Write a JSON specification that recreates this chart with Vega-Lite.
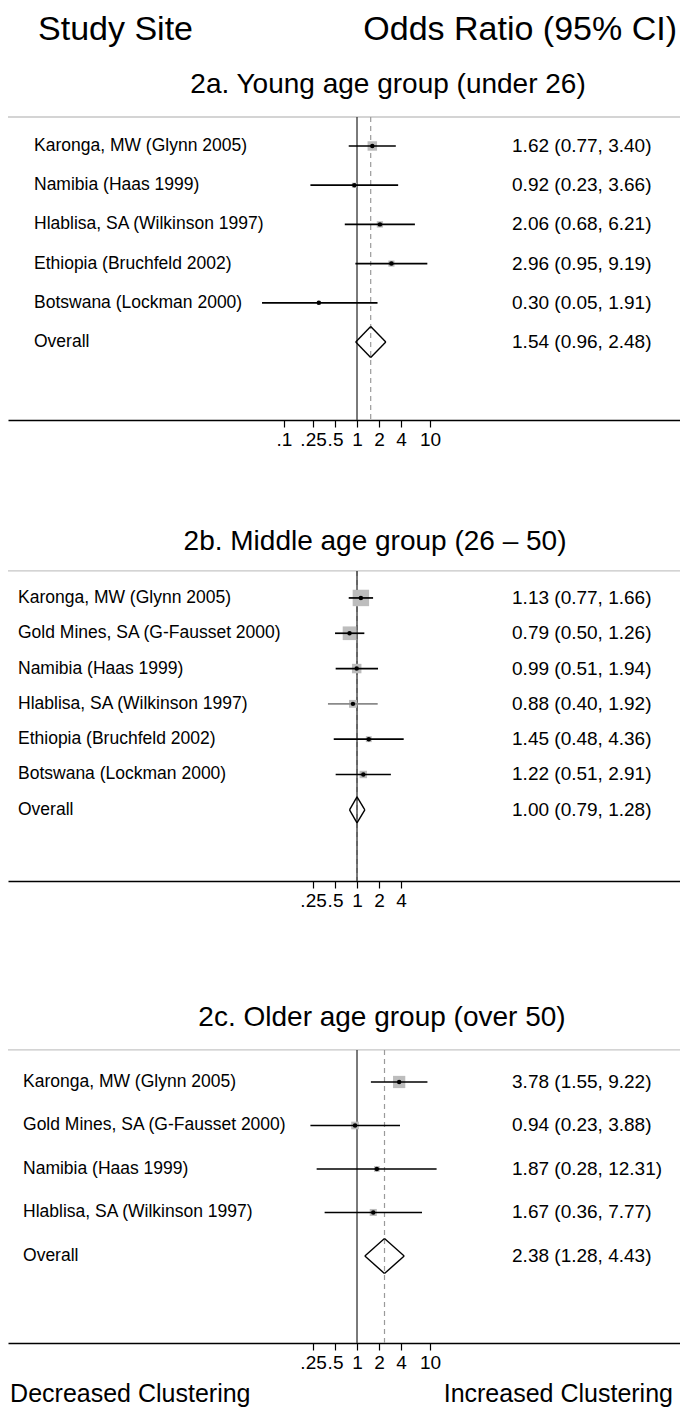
{
  "$schema": "https://vega.github.io/schema/vega-lite/v6.json",
  "padding": {"left": 7, "top": 0, "right": 0, "bottom": 0},
  "background": "white",
  "bounds": "flush",
  "spacing": 0,
  "resolve": {"scale": {"size": "independent"}},
  "config": {
    "view": {"stroke": null},
    "font": "Liberation Sans",
    "text": {"font": "Liberation Sans", "color": "black"},
    "axis": {"domainColor": "black", "domainWidth": 1.3, "tickColor": "black", "tickWidth": 1.2, "tickSize": 7, "labelFontSize": 19, "labelColor": "black", "labelFont": "Liberation Sans", "labelPadding": 3, "grid": false}
  },
  "datasets": {
    "young": [
      {"row": 0, "site": "Karonga, MW (Glynn 2005)", "or": 1.62, "lo": 0.77, "hi": 3.40, "weight": 43, "type": "study", "ci": "1.62 (0.77, 3.40)"},
      {"row": 1, "site": "Namibia (Haas 1999)", "or": 0.92, "lo": 0.23, "hi": 3.66, "weight": 12, "type": "study", "ci": "0.92 (0.23, 3.66)"},
      {"row": 2, "site": "Hlablisa, SA (Wilkinson 1997)", "or": 2.06, "lo": 0.68, "hi": 6.21, "weight": 19, "type": "study", "ci": "2.06 (0.68, 6.21)"},
      {"row": 3, "site": "Ethiopia (Bruchfeld 2002)", "or": 2.96, "lo": 0.95, "hi": 9.19, "weight": 18, "type": "study", "ci": "2.96 (0.95, 9.19)"},
      {"row": 4, "site": "Botswana (Lockman 2000)", "or": 0.30, "lo": 0.05, "hi": 1.91, "weight": 7, "type": "study", "ci": "0.30 (0.05, 1.91)"},
      {"row": 5, "site": "Overall", "or": 1.54, "lo": 0.96, "hi": 2.48, "weight": 100, "type": "overall", "ci": "1.54 (0.96, 2.48)"}
    ],
    "middle": [
      {"row": 0, "site": "Karonga, MW (Glynn 2005)", "or": 1.13, "lo": 0.77, "hi": 1.66, "weight": 39, "type": "study", "ci": "1.13 (0.77, 1.66)"},
      {"row": 1, "site": "Gold Mines, SA (G-Fausset 2000)", "or": 0.79, "lo": 0.50, "hi": 1.26, "weight": 27, "type": "study", "ci": "0.79 (0.50, 1.26)"},
      {"row": 2, "site": "Namibia (Haas 1999)", "or": 0.99, "lo": 0.51, "hi": 1.94, "weight": 13, "type": "study", "ci": "0.99 (0.51, 1.94)"},
      {"row": 3, "site": "Hlablisa, SA (Wilkinson 1997)", "or": 0.88, "lo": 0.40, "hi": 1.92, "weight": 9, "type": "study", "ci": "0.88 (0.40, 1.92)"},
      {"row": 4, "site": "Ethiopia (Bruchfeld 2002)", "or": 1.45, "lo": 0.48, "hi": 4.36, "weight": 5, "type": "study", "ci": "1.45 (0.48, 4.36)"},
      {"row": 5, "site": "Botswana (Lockman 2000)", "or": 1.22, "lo": 0.51, "hi": 2.91, "weight": 8, "type": "study", "ci": "1.22 (0.51, 2.91)"},
      {"row": 6, "site": "Overall", "or": 1.00, "lo": 0.79, "hi": 1.28, "weight": 100, "type": "overall", "ci": "1.00 (0.79, 1.28)"}
    ],
    "older": [
      {"row": 0, "site": "Karonga, MW (Glynn 2005)", "or": 3.78, "lo": 1.55, "hi": 9.22, "weight": 51, "type": "study", "ci": "3.78 (1.55, 9.22)"},
      {"row": 1, "site": "Gold Mines, SA (G-Fausset 2000)", "or": 0.94, "lo": 0.23, "hi": 3.88, "weight": 20, "type": "study", "ci": "0.94 (0.23, 3.88)"},
      {"row": 2, "site": "Namibia (Haas 1999)", "or": 1.87, "lo": 0.28, "hi": 12.31, "weight": 11, "type": "study", "ci": "1.87 (0.28, 12.31)"},
      {"row": 3, "site": "Hlablisa, SA (Wilkinson 1997)", "or": 1.67, "lo": 0.36, "hi": 7.77, "weight": 17, "type": "study", "ci": "1.67 (0.36, 7.77)"},
      {"row": 4, "site": "Overall", "or": 2.38, "lo": 1.28, "hi": 4.43, "weight": 100, "type": "overall", "ci": "2.38 (1.28, 4.43)"}
    ]
  },
  "vconcat": [
    {
      "width": 673, "height": 420,
      "data": {"name": "young"},
      "layer": [
        {"data": {"values": [{}]}, "mark": {"type": "rule", "color": "#c6c6c6", "strokeWidth": 1.3},
         "encoding": {"y": {"datum": -0.74, "type": "quantitative", "scale": {"domain": [-3.724, 6.99], "reverse": true, "nice": false, "zero": false}, "axis": null}}},
        {"transform": [{"filter": "datum.type == 'overall'"}], "mark": {"type": "rule", "color": "#9a9a9a", "strokeWidth": 1.2, "strokeDash": [5, 4]},
         "encoding": {"x": {"field": "or", "type": "quantitative", "scale": {"type": "log", "domain": [0.00001656, 27430], "nice": false}, "axis": {"values": [0.1, 0.25, 0.5, 1, 2, 4, 10], "title": null, "labelOverlap": false, "labelFlush": false, "labelBound": false, "labelExpr": "datum.value < 1 ? replace(format(datum.value, '~g'), '0.', '.') : format(datum.value, '~g')"}},
          "y": {"datum": -0.74, "type": "quantitative", "scale": {"domain": [-3.724, 6.99], "reverse": true, "nice": false, "zero": false}, "axis": null}, "y2": {"datum": 6.99}}},
        {"data": {"values": [{}]}, "mark": {"type": "rule", "color": "#333333", "strokeWidth": 1.3},
         "encoding": {"x": {"datum": 1, "type": "quantitative", "scale": {"type": "log", "domain": [0.00001656, 27430], "nice": false}, "axis": {"values": [0.1, 0.25, 0.5, 1, 2, 4, 10], "title": null, "labelOverlap": false, "labelFlush": false, "labelBound": false, "labelExpr": "datum.value < 1 ? replace(format(datum.value, '~g'), '0.', '.') : format(datum.value, '~g')"}},
          "y": {"datum": -0.74, "type": "quantitative", "scale": {"domain": [-3.724, 6.99], "reverse": true, "nice": false, "zero": false}, "axis": null}, "y2": {"datum": 6.99}}},
        {"transform": [{"filter": "datum.type == 'study'"}], "mark": {"type": "point", "shape": "square", "filled": true, "color": "#bdbdbd", "opacity": 1},
         "encoding": {"x": {"field": "or", "type": "quantitative", "scale": {"type": "log", "domain": [0.00001656, 27430], "nice": false}, "axis": {"values": [0.1, 0.25, 0.5, 1, 2, 4, 10], "title": null, "labelOverlap": false, "labelFlush": false, "labelBound": false, "labelExpr": "datum.value < 1 ? replace(format(datum.value, '~g'), '0.', '.') : format(datum.value, '~g')"}},
          "y": {"field": "row", "type": "quantitative", "scale": {"domain": [-3.724, 6.99], "reverse": true, "nice": false, "zero": false}, "axis": null},
          "size": {"field": "weight", "type": "quantitative", "scale": {"domain": [0, 43], "range": [0, 90]}, "legend": null}}},
        {"transform": [{"filter": "datum.type == 'study'"}], "mark": {"type": "rule", "color": "black", "strokeWidth": 1.7},
         "encoding": {"x": {"field": "lo", "type": "quantitative", "scale": {"type": "log", "domain": [0.00001656, 27430], "nice": false}, "axis": {"values": [0.1, 0.25, 0.5, 1, 2, 4, 10], "title": null, "labelOverlap": false, "labelFlush": false, "labelBound": false, "labelExpr": "datum.value < 1 ? replace(format(datum.value, '~g'), '0.', '.') : format(datum.value, '~g')"}}, "x2": {"field": "hi"},
          "y": {"field": "row", "type": "quantitative", "scale": {"domain": [-3.724, 6.99], "reverse": true, "nice": false, "zero": false}, "axis": null}}},
        {"transform": [{"filter": "datum.type == 'study'"}], "mark": {"type": "point", "shape": "circle", "filled": true, "color": "black", "opacity": 1, "size": 20},
         "encoding": {"x": {"field": "or", "type": "quantitative", "scale": {"type": "log", "domain": [0.00001656, 27430], "nice": false}, "axis": {"values": [0.1, 0.25, 0.5, 1, 2, 4, 10], "title": null, "labelOverlap": false, "labelFlush": false, "labelBound": false, "labelExpr": "datum.value < 1 ? replace(format(datum.value, '~g'), '0.', '.') : format(datum.value, '~g')"}},
          "y": {"field": "row", "type": "quantitative", "scale": {"domain": [-3.724, 6.99], "reverse": true, "nice": false, "zero": false}, "axis": null}}},
        {"transform": [{"filter": "datum.type == 'overall'"}], "mark": {"type": "rule", "color": "black", "strokeWidth": 1.4, "y2Offset": -15.5},
         "encoding": {"x": {"field": "lo", "type": "quantitative", "scale": {"type": "log", "domain": [0.00001656, 27430], "nice": false}, "axis": {"values": [0.1, 0.25, 0.5, 1, 2, 4, 10], "title": null, "labelOverlap": false, "labelFlush": false, "labelBound": false, "labelExpr": "datum.value < 1 ? replace(format(datum.value, '~g'), '0.', '.') : format(datum.value, '~g')"}}, "x2": {"field": "or"},
          "y": {"field": "row", "type": "quantitative", "scale": {"domain": [-3.724, 6.99], "reverse": true, "nice": false, "zero": false}, "axis": null}, "y2": {"field": "row"}}},
        {"transform": [{"filter": "datum.type == 'overall'"}], "mark": {"type": "rule", "color": "black", "strokeWidth": 1.4, "y2Offset": 15.5},
         "encoding": {"x": {"field": "lo", "type": "quantitative", "scale": {"type": "log", "domain": [0.00001656, 27430], "nice": false}, "axis": {"values": [0.1, 0.25, 0.5, 1, 2, 4, 10], "title": null, "labelOverlap": false, "labelFlush": false, "labelBound": false, "labelExpr": "datum.value < 1 ? replace(format(datum.value, '~g'), '0.', '.') : format(datum.value, '~g')"}}, "x2": {"field": "or"},
          "y": {"field": "row", "type": "quantitative", "scale": {"domain": [-3.724, 6.99], "reverse": true, "nice": false, "zero": false}, "axis": null}, "y2": {"field": "row"}}},
        {"transform": [{"filter": "datum.type == 'overall'"}], "mark": {"type": "rule", "color": "black", "strokeWidth": 1.4, "yOffset": -15.5},
         "encoding": {"x": {"field": "or", "type": "quantitative", "scale": {"type": "log", "domain": [0.00001656, 27430], "nice": false}, "axis": {"values": [0.1, 0.25, 0.5, 1, 2, 4, 10], "title": null, "labelOverlap": false, "labelFlush": false, "labelBound": false, "labelExpr": "datum.value < 1 ? replace(format(datum.value, '~g'), '0.', '.') : format(datum.value, '~g')"}}, "x2": {"field": "hi"},
          "y": {"field": "row", "type": "quantitative", "scale": {"domain": [-3.724, 6.99], "reverse": true, "nice": false, "zero": false}, "axis": null}, "y2": {"field": "row"}}},
        {"transform": [{"filter": "datum.type == 'overall'"}], "mark": {"type": "rule", "color": "black", "strokeWidth": 1.4, "yOffset": 15.5},
         "encoding": {"x": {"field": "or", "type": "quantitative", "scale": {"type": "log", "domain": [0.00001656, 27430], "nice": false}, "axis": {"values": [0.1, 0.25, 0.5, 1, 2, 4, 10], "title": null, "labelOverlap": false, "labelFlush": false, "labelBound": false, "labelExpr": "datum.value < 1 ? replace(format(datum.value, '~g'), '0.', '.') : format(datum.value, '~g')"}}, "x2": {"field": "hi"},
          "y": {"field": "row", "type": "quantitative", "scale": {"domain": [-3.724, 6.99], "reverse": true, "nice": false, "zero": false}, "axis": null}, "y2": {"field": "row"}}},
        {"mark": {"type": "text", "align": "left", "baseline": "middle", "fontSize": 17.5},
         "encoding": {"x": {"datum": 0.0000376, "type": "quantitative", "scale": {"type": "log", "domain": [0.00001656, 27430], "nice": false}, "axis": {"values": [0.1, 0.25, 0.5, 1, 2, 4, 10], "title": null, "labelOverlap": false, "labelFlush": false, "labelBound": false, "labelExpr": "datum.value < 1 ? replace(format(datum.value, '~g'), '0.', '.') : format(datum.value, '~g')"}},
          "y": {"field": "row", "type": "quantitative", "scale": {"domain": [-3.724, 6.99], "reverse": true, "nice": false, "zero": false}, "axis": null}, "text": {"field": "site"}}},
        {"mark": {"type": "text", "align": "left", "baseline": "middle", "fontSize": 19},
         "encoding": {"x": {"datum": 133, "type": "quantitative", "scale": {"type": "log", "domain": [0.00001656, 27430], "nice": false}, "axis": {"values": [0.1, 0.25, 0.5, 1, 2, 4, 10], "title": null, "labelOverlap": false, "labelFlush": false, "labelBound": false, "labelExpr": "datum.value < 1 ? replace(format(datum.value, '~g'), '0.', '.') : format(datum.value, '~g')"}},
          "y": {"field": "row", "type": "quantitative", "scale": {"domain": [-3.724, 6.99], "reverse": true, "nice": false, "zero": false}, "axis": null}, "text": {"field": "ci"}}},
        {"data": {"values": [{}]}, "mark": {"type": "text", "align": "center", "baseline": "middle", "fontSize": 28},
         "encoding": {"x": {"datum": 2.66, "type": "quantitative", "scale": {"type": "log", "domain": [0.00001656, 27430], "nice": false}, "axis": {"values": [0.1, 0.25, 0.5, 1, 2, 4, 10], "title": null, "labelOverlap": false, "labelFlush": false, "labelBound": false, "labelExpr": "datum.value < 1 ? replace(format(datum.value, '~g'), '0.', '.') : format(datum.value, '~g')"}},
          "y": {"datum": -1.556, "type": "quantitative", "scale": {"domain": [-3.724, 6.99], "reverse": true, "nice": false, "zero": false}, "axis": null}, "text": {"value": "2a. Young age group (under 26)"}}},
        {"data": {"values": [{}]}, "mark": {"type": "text", "align": "left", "baseline": "middle", "fontSize": 34},
         "encoding": {"x": {"datum": 0.0000427, "type": "quantitative", "scale": {"type": "log", "domain": [0.00001656, 27430], "nice": false}, "axis": {"values": [0.1, 0.25, 0.5, 1, 2, 4, 10], "title": null, "labelOverlap": false, "labelFlush": false, "labelBound": false, "labelExpr": "datum.value < 1 ? replace(format(datum.value, '~g'), '0.', '.') : format(datum.value, '~g')"}},
          "y": {"datum": -2.96, "type": "quantitative", "scale": {"domain": [-3.724, 6.99], "reverse": true, "nice": false, "zero": false}, "axis": null}, "text": {"value": "Study Site"}}},
        {"data": {"values": [{}]}, "mark": {"type": "text", "align": "right", "baseline": "middle", "fontSize": 34},
         "encoding": {"x": {"datum": 24190, "type": "quantitative", "scale": {"type": "log", "domain": [0.00001656, 27430], "nice": false}, "axis": {"values": [0.1, 0.25, 0.5, 1, 2, 4, 10], "title": null, "labelOverlap": false, "labelFlush": false, "labelBound": false, "labelExpr": "datum.value < 1 ? replace(format(datum.value, '~g'), '0.', '.') : format(datum.value, '~g')"}},
          "y": {"datum": -2.96, "type": "quantitative", "scale": {"domain": [-3.724, 6.99], "reverse": true, "nice": false, "zero": false}, "axis": null}, "text": {"value": "Odds Ratio (95% CI)"}}}
      ]
    },
    {
      "width": 673, "height": 461,
      "data": {"name": "middle"},
      "layer": [
        {"data": {"values": [{}]}, "mark": {"type": "rule", "color": "#c6c6c6", "strokeWidth": 1.3},
         "encoding": {"y": {"datum": -0.765, "type": "quantitative", "scale": {"domain": [-5.04, 8.017], "reverse": true, "nice": false, "zero": false}, "axis": null}}},
        {"transform": [{"filter": "datum.type == 'overall'"}], "mark": {"type": "rule", "color": "#9a9a9a", "strokeWidth": 1.2, "strokeDash": [5, 4]},
         "encoding": {"x": {"field": "or", "type": "quantitative", "scale": {"type": "log", "domain": [0.00001656, 27430], "nice": false}, "axis": {"values": [0.25, 0.5, 1, 2, 4], "title": null, "labelOverlap": false, "labelFlush": false, "labelBound": false, "labelExpr": "datum.value < 1 ? replace(format(datum.value, '~g'), '0.', '.') : format(datum.value, '~g')"}},
          "y": {"datum": -0.765, "type": "quantitative", "scale": {"domain": [-5.04, 8.017], "reverse": true, "nice": false, "zero": false}, "axis": null}, "y2": {"datum": 8.017}}},
        {"data": {"values": [{}]}, "mark": {"type": "rule", "color": "#333333", "strokeWidth": 1.3},
         "encoding": {"x": {"datum": 1, "type": "quantitative", "scale": {"type": "log", "domain": [0.00001656, 27430], "nice": false}, "axis": {"values": [0.25, 0.5, 1, 2, 4], "title": null, "labelOverlap": false, "labelFlush": false, "labelBound": false, "labelExpr": "datum.value < 1 ? replace(format(datum.value, '~g'), '0.', '.') : format(datum.value, '~g')"}},
          "y": {"datum": -0.765, "type": "quantitative", "scale": {"domain": [-5.04, 8.017], "reverse": true, "nice": false, "zero": false}, "axis": null}, "y2": {"datum": 8.017}}},
        {"transform": [{"filter": "datum.type == 'study'"}], "mark": {"type": "point", "shape": "square", "filled": true, "color": "#bdbdbd", "opacity": 1},
         "encoding": {"x": {"field": "or", "type": "quantitative", "scale": {"type": "log", "domain": [0.00001656, 27430], "nice": false}, "axis": {"values": [0.25, 0.5, 1, 2, 4], "title": null, "labelOverlap": false, "labelFlush": false, "labelBound": false, "labelExpr": "datum.value < 1 ? replace(format(datum.value, '~g'), '0.', '.') : format(datum.value, '~g')"}},
          "y": {"field": "row", "type": "quantitative", "scale": {"domain": [-5.04, 8.017], "reverse": true, "nice": false, "zero": false}, "axis": null},
          "size": {"field": "weight", "type": "quantitative", "scale": {"domain": [0, 39], "range": [0, 270]}, "legend": null}}},
        {"transform": [{"filter": "datum.type == 'study'"}], "mark": {"type": "rule", "strokeWidth": 1.7},
         "encoding": {"x": {"field": "lo", "type": "quantitative", "scale": {"type": "log", "domain": [0.00001656, 27430], "nice": false}, "axis": {"values": [0.25, 0.5, 1, 2, 4], "title": null, "labelOverlap": false, "labelFlush": false, "labelBound": false, "labelExpr": "datum.value < 1 ? replace(format(datum.value, '~g'), '0.', '.') : format(datum.value, '~g')"}}, "x2": {"field": "hi"},
          "y": {"field": "row", "type": "quantitative", "scale": {"domain": [-5.04, 8.017], "reverse": true, "nice": false, "zero": false}, "axis": null},
          "color": {"condition": {"test": "datum.site == 'Hlablisa, SA (Wilkinson 1997)'", "value": "#8a8a8a"}, "value": "black"}}},
        {"transform": [{"filter": "datum.type == 'study'"}], "mark": {"type": "point", "shape": "circle", "filled": true, "color": "black", "opacity": 1, "size": 20},
         "encoding": {"x": {"field": "or", "type": "quantitative", "scale": {"type": "log", "domain": [0.00001656, 27430], "nice": false}, "axis": {"values": [0.25, 0.5, 1, 2, 4], "title": null, "labelOverlap": false, "labelFlush": false, "labelBound": false, "labelExpr": "datum.value < 1 ? replace(format(datum.value, '~g'), '0.', '.') : format(datum.value, '~g')"}},
          "y": {"field": "row", "type": "quantitative", "scale": {"domain": [-5.04, 8.017], "reverse": true, "nice": false, "zero": false}, "axis": null}}},
        {"transform": [{"filter": "datum.type == 'overall'"}], "mark": {"type": "rule", "color": "black", "strokeWidth": 1.4, "y2Offset": -13},
         "encoding": {"x": {"field": "lo", "type": "quantitative", "scale": {"type": "log", "domain": [0.00001656, 27430], "nice": false}, "axis": {"values": [0.25, 0.5, 1, 2, 4], "title": null, "labelOverlap": false, "labelFlush": false, "labelBound": false, "labelExpr": "datum.value < 1 ? replace(format(datum.value, '~g'), '0.', '.') : format(datum.value, '~g')"}}, "x2": {"field": "or"},
          "y": {"field": "row", "type": "quantitative", "scale": {"domain": [-5.04, 8.017], "reverse": true, "nice": false, "zero": false}, "axis": null}, "y2": {"field": "row"}}},
        {"transform": [{"filter": "datum.type == 'overall'"}], "mark": {"type": "rule", "color": "black", "strokeWidth": 1.4, "y2Offset": 13},
         "encoding": {"x": {"field": "lo", "type": "quantitative", "scale": {"type": "log", "domain": [0.00001656, 27430], "nice": false}, "axis": {"values": [0.25, 0.5, 1, 2, 4], "title": null, "labelOverlap": false, "labelFlush": false, "labelBound": false, "labelExpr": "datum.value < 1 ? replace(format(datum.value, '~g'), '0.', '.') : format(datum.value, '~g')"}}, "x2": {"field": "or"},
          "y": {"field": "row", "type": "quantitative", "scale": {"domain": [-5.04, 8.017], "reverse": true, "nice": false, "zero": false}, "axis": null}, "y2": {"field": "row"}}},
        {"transform": [{"filter": "datum.type == 'overall'"}], "mark": {"type": "rule", "color": "black", "strokeWidth": 1.4, "yOffset": -13},
         "encoding": {"x": {"field": "or", "type": "quantitative", "scale": {"type": "log", "domain": [0.00001656, 27430], "nice": false}, "axis": {"values": [0.25, 0.5, 1, 2, 4], "title": null, "labelOverlap": false, "labelFlush": false, "labelBound": false, "labelExpr": "datum.value < 1 ? replace(format(datum.value, '~g'), '0.', '.') : format(datum.value, '~g')"}}, "x2": {"field": "hi"},
          "y": {"field": "row", "type": "quantitative", "scale": {"domain": [-5.04, 8.017], "reverse": true, "nice": false, "zero": false}, "axis": null}, "y2": {"field": "row"}}},
        {"transform": [{"filter": "datum.type == 'overall'"}], "mark": {"type": "rule", "color": "black", "strokeWidth": 1.4, "yOffset": 13},
         "encoding": {"x": {"field": "or", "type": "quantitative", "scale": {"type": "log", "domain": [0.00001656, 27430], "nice": false}, "axis": {"values": [0.25, 0.5, 1, 2, 4], "title": null, "labelOverlap": false, "labelFlush": false, "labelBound": false, "labelExpr": "datum.value < 1 ? replace(format(datum.value, '~g'), '0.', '.') : format(datum.value, '~g')"}}, "x2": {"field": "hi"},
          "y": {"field": "row", "type": "quantitative", "scale": {"domain": [-5.04, 8.017], "reverse": true, "nice": false, "zero": false}, "axis": null}, "y2": {"field": "row"}}},
        {"mark": {"type": "text", "align": "left", "baseline": "middle", "fontSize": 17.5},
         "encoding": {"x": {"datum": 0.0000227, "type": "quantitative", "scale": {"type": "log", "domain": [0.00001656, 27430], "nice": false}, "axis": {"values": [0.25, 0.5, 1, 2, 4], "title": null, "labelOverlap": false, "labelFlush": false, "labelBound": false, "labelExpr": "datum.value < 1 ? replace(format(datum.value, '~g'), '0.', '.') : format(datum.value, '~g')"}},
          "y": {"field": "row", "type": "quantitative", "scale": {"domain": [-5.04, 8.017], "reverse": true, "nice": false, "zero": false}, "axis": null}, "text": {"field": "site"}}},
        {"mark": {"type": "text", "align": "left", "baseline": "middle", "fontSize": 19},
         "encoding": {"x": {"datum": 133, "type": "quantitative", "scale": {"type": "log", "domain": [0.00001656, 27430], "nice": false}, "axis": {"values": [0.25, 0.5, 1, 2, 4], "title": null, "labelOverlap": false, "labelFlush": false, "labelBound": false, "labelExpr": "datum.value < 1 ? replace(format(datum.value, '~g'), '0.', '.') : format(datum.value, '~g')"}},
          "y": {"field": "row", "type": "quantitative", "scale": {"domain": [-5.04, 8.017], "reverse": true, "nice": false, "zero": false}, "axis": null}, "text": {"field": "ci"}}},
        {"data": {"values": [{}]}, "mark": {"type": "text", "align": "center", "baseline": "middle", "fontSize": 28},
         "encoding": {"x": {"datum": 1.765, "type": "quantitative", "scale": {"type": "log", "domain": [0.00001656, 27430], "nice": false}, "axis": {"values": [0.25, 0.5, 1, 2, 4], "title": null, "labelOverlap": false, "labelFlush": false, "labelBound": false, "labelExpr": "datum.value < 1 ? replace(format(datum.value, '~g'), '0.', '.') : format(datum.value, '~g')"}},
          "y": {"datum": -1.586, "type": "quantitative", "scale": {"domain": [-5.04, 8.017], "reverse": true, "nice": false, "zero": false}, "axis": null}, "text": {"value": "2b. Middle age group (26 – 50)"}}}
      ]
    },
    {
      "width": 673, "height": 462,
      "data": {"name": "older"},
      "layer": [
        {"data": {"values": [{}]}, "mark": {"type": "rule", "color": "#c6c6c6", "strokeWidth": 1.3},
         "encoding": {"y": {"datum": -0.736, "type": "quantitative", "scale": {"domain": [-4.62, 6.0], "reverse": true, "nice": false, "zero": false}, "axis": null}}},
        {"transform": [{"filter": "datum.type == 'overall'"}], "mark": {"type": "rule", "color": "#9a9a9a", "strokeWidth": 1.2, "strokeDash": [5, 4]},
         "encoding": {"x": {"field": "or", "type": "quantitative", "scale": {"type": "log", "domain": [0.00001656, 27430], "nice": false}, "axis": {"values": [0.25, 0.5, 1, 2, 4, 10], "title": null, "labelOverlap": false, "labelFlush": false, "labelBound": false, "labelExpr": "datum.value < 1 ? replace(format(datum.value, '~g'), '0.', '.') : format(datum.value, '~g')"}},
          "y": {"datum": -0.736, "type": "quantitative", "scale": {"domain": [-4.62, 6.0], "reverse": true, "nice": false, "zero": false}, "axis": null}, "y2": {"datum": 6.0}}},
        {"data": {"values": [{}]}, "mark": {"type": "rule", "color": "#333333", "strokeWidth": 1.3},
         "encoding": {"x": {"datum": 1, "type": "quantitative", "scale": {"type": "log", "domain": [0.00001656, 27430], "nice": false}, "axis": {"values": [0.25, 0.5, 1, 2, 4, 10], "title": null, "labelOverlap": false, "labelFlush": false, "labelBound": false, "labelExpr": "datum.value < 1 ? replace(format(datum.value, '~g'), '0.', '.') : format(datum.value, '~g')"}},
          "y": {"datum": -0.736, "type": "quantitative", "scale": {"domain": [-4.62, 6.0], "reverse": true, "nice": false, "zero": false}, "axis": null}, "y2": {"datum": 6.0}}},
        {"transform": [{"filter": "datum.type == 'study'"}], "mark": {"type": "point", "shape": "square", "filled": true, "color": "#bdbdbd", "opacity": 1},
         "encoding": {"x": {"field": "or", "type": "quantitative", "scale": {"type": "log", "domain": [0.00001656, 27430], "nice": false}, "axis": {"values": [0.25, 0.5, 1, 2, 4, 10], "title": null, "labelOverlap": false, "labelFlush": false, "labelBound": false, "labelExpr": "datum.value < 1 ? replace(format(datum.value, '~g'), '0.', '.') : format(datum.value, '~g')"}},
          "y": {"field": "row", "type": "quantitative", "scale": {"domain": [-4.62, 6.0], "reverse": true, "nice": false, "zero": false}, "axis": null},
          "size": {"field": "weight", "type": "quantitative", "scale": {"domain": [0, 51], "range": [0, 150]}, "legend": null}}},
        {"transform": [{"filter": "datum.type == 'study'"}], "mark": {"type": "rule", "color": "black", "strokeWidth": 1.7},
         "encoding": {"x": {"field": "lo", "type": "quantitative", "scale": {"type": "log", "domain": [0.00001656, 27430], "nice": false}, "axis": {"values": [0.25, 0.5, 1, 2, 4, 10], "title": null, "labelOverlap": false, "labelFlush": false, "labelBound": false, "labelExpr": "datum.value < 1 ? replace(format(datum.value, '~g'), '0.', '.') : format(datum.value, '~g')"}}, "x2": {"field": "hi"},
          "y": {"field": "row", "type": "quantitative", "scale": {"domain": [-4.62, 6.0], "reverse": true, "nice": false, "zero": false}, "axis": null}}},
        {"transform": [{"filter": "datum.type == 'study'"}], "mark": {"type": "point", "shape": "circle", "filled": true, "color": "black", "opacity": 1, "size": 20},
         "encoding": {"x": {"field": "or", "type": "quantitative", "scale": {"type": "log", "domain": [0.00001656, 27430], "nice": false}, "axis": {"values": [0.25, 0.5, 1, 2, 4, 10], "title": null, "labelOverlap": false, "labelFlush": false, "labelBound": false, "labelExpr": "datum.value < 1 ? replace(format(datum.value, '~g'), '0.', '.') : format(datum.value, '~g')"}},
          "y": {"field": "row", "type": "quantitative", "scale": {"domain": [-4.62, 6.0], "reverse": true, "nice": false, "zero": false}, "axis": null}}},
        {"transform": [{"filter": "datum.type == 'overall'"}], "mark": {"type": "rule", "color": "black", "strokeWidth": 1.4, "y2Offset": -17.5},
         "encoding": {"x": {"field": "lo", "type": "quantitative", "scale": {"type": "log", "domain": [0.00001656, 27430], "nice": false}, "axis": {"values": [0.25, 0.5, 1, 2, 4, 10], "title": null, "labelOverlap": false, "labelFlush": false, "labelBound": false, "labelExpr": "datum.value < 1 ? replace(format(datum.value, '~g'), '0.', '.') : format(datum.value, '~g')"}}, "x2": {"field": "or"},
          "y": {"field": "row", "type": "quantitative", "scale": {"domain": [-4.62, 6.0], "reverse": true, "nice": false, "zero": false}, "axis": null}, "y2": {"field": "row"}}},
        {"transform": [{"filter": "datum.type == 'overall'"}], "mark": {"type": "rule", "color": "black", "strokeWidth": 1.4, "y2Offset": 17.5},
         "encoding": {"x": {"field": "lo", "type": "quantitative", "scale": {"type": "log", "domain": [0.00001656, 27430], "nice": false}, "axis": {"values": [0.25, 0.5, 1, 2, 4, 10], "title": null, "labelOverlap": false, "labelFlush": false, "labelBound": false, "labelExpr": "datum.value < 1 ? replace(format(datum.value, '~g'), '0.', '.') : format(datum.value, '~g')"}}, "x2": {"field": "or"},
          "y": {"field": "row", "type": "quantitative", "scale": {"domain": [-4.62, 6.0], "reverse": true, "nice": false, "zero": false}, "axis": null}, "y2": {"field": "row"}}},
        {"transform": [{"filter": "datum.type == 'overall'"}], "mark": {"type": "rule", "color": "black", "strokeWidth": 1.4, "yOffset": -17.5},
         "encoding": {"x": {"field": "or", "type": "quantitative", "scale": {"type": "log", "domain": [0.00001656, 27430], "nice": false}, "axis": {"values": [0.25, 0.5, 1, 2, 4, 10], "title": null, "labelOverlap": false, "labelFlush": false, "labelBound": false, "labelExpr": "datum.value < 1 ? replace(format(datum.value, '~g'), '0.', '.') : format(datum.value, '~g')"}}, "x2": {"field": "hi"},
          "y": {"field": "row", "type": "quantitative", "scale": {"domain": [-4.62, 6.0], "reverse": true, "nice": false, "zero": false}, "axis": null}, "y2": {"field": "row"}}},
        {"transform": [{"filter": "datum.type == 'overall'"}], "mark": {"type": "rule", "color": "black", "strokeWidth": 1.4, "yOffset": 17.5},
         "encoding": {"x": {"field": "or", "type": "quantitative", "scale": {"type": "log", "domain": [0.00001656, 27430], "nice": false}, "axis": {"values": [0.25, 0.5, 1, 2, 4, 10], "title": null, "labelOverlap": false, "labelFlush": false, "labelBound": false, "labelExpr": "datum.value < 1 ? replace(format(datum.value, '~g'), '0.', '.') : format(datum.value, '~g')"}}, "x2": {"field": "hi"},
          "y": {"field": "row", "type": "quantitative", "scale": {"domain": [-4.62, 6.0], "reverse": true, "nice": false, "zero": false}, "axis": null}, "y2": {"field": "row"}}},
        {"mark": {"type": "text", "align": "left", "baseline": "middle", "fontSize": 17.5},
         "encoding": {"x": {"datum": 0.0000266, "type": "quantitative", "scale": {"type": "log", "domain": [0.00001656, 27430], "nice": false}, "axis": {"values": [0.25, 0.5, 1, 2, 4, 10], "title": null, "labelOverlap": false, "labelFlush": false, "labelBound": false, "labelExpr": "datum.value < 1 ? replace(format(datum.value, '~g'), '0.', '.') : format(datum.value, '~g')"}},
          "y": {"field": "row", "type": "quantitative", "scale": {"domain": [-4.62, 6.0], "reverse": true, "nice": false, "zero": false}, "axis": null}, "text": {"field": "site"}}},
        {"mark": {"type": "text", "align": "left", "baseline": "middle", "fontSize": 19},
         "encoding": {"x": {"datum": 133, "type": "quantitative", "scale": {"type": "log", "domain": [0.00001656, 27430], "nice": false}, "axis": {"values": [0.25, 0.5, 1, 2, 4, 10], "title": null, "labelOverlap": false, "labelFlush": false, "labelBound": false, "labelExpr": "datum.value < 1 ? replace(format(datum.value, '~g'), '0.', '.') : format(datum.value, '~g')"}},
          "y": {"field": "row", "type": "quantitative", "scale": {"domain": [-4.62, 6.0], "reverse": true, "nice": false, "zero": false}, "axis": null}, "text": {"field": "ci"}}},
        {"data": {"values": [{}]}, "mark": {"type": "text", "align": "center", "baseline": "middle", "fontSize": 28},
         "encoding": {"x": {"datum": 2.20, "type": "quantitative", "scale": {"type": "log", "domain": [0.00001656, 27430], "nice": false}, "axis": {"values": [0.25, 0.5, 1, 2, 4, 10], "title": null, "labelOverlap": false, "labelFlush": false, "labelBound": false, "labelExpr": "datum.value < 1 ? replace(format(datum.value, '~g'), '0.', '.') : format(datum.value, '~g')"}},
          "y": {"datum": -1.471, "type": "quantitative", "scale": {"domain": [-4.62, 6.0], "reverse": true, "nice": false, "zero": false}, "axis": null}, "text": {"value": "2c. Older age group (over 50)"}}},
        {"data": {"values": [{}]}, "mark": {"type": "text", "align": "left", "baseline": "middle", "fontSize": 25},
         "encoding": {"x": {"datum": 0.0000177, "type": "quantitative", "scale": {"type": "log", "domain": [0.00001656, 27430], "nice": false}, "axis": {"values": [0.25, 0.5, 1, 2, 4, 10], "title": null, "labelOverlap": false, "labelFlush": false, "labelBound": false, "labelExpr": "datum.value < 1 ? replace(format(datum.value, '~g'), '0.', '.') : format(datum.value, '~g')"}},
          "y": {"datum": 7.17, "type": "quantitative", "scale": {"domain": [-4.62, 6.0], "reverse": true, "nice": false, "zero": false}, "axis": null}, "text": {"value": "Decreased Clustering"}}},
        {"data": {"values": [{}]}, "mark": {"type": "text", "align": "right", "baseline": "middle", "fontSize": 25},
         "encoding": {"x": {"datum": 21300, "type": "quantitative", "scale": {"type": "log", "domain": [0.00001656, 27430], "nice": false}, "axis": {"values": [0.25, 0.5, 1, 2, 4, 10], "title": null, "labelOverlap": false, "labelFlush": false, "labelBound": false, "labelExpr": "datum.value < 1 ? replace(format(datum.value, '~g'), '0.', '.') : format(datum.value, '~g')"}},
          "y": {"datum": 7.17, "type": "quantitative", "scale": {"domain": [-4.62, 6.0], "reverse": true, "nice": false, "zero": false}, "axis": null}, "text": {"value": "Increased Clustering"}}}
      ]
    }
  ]
}
